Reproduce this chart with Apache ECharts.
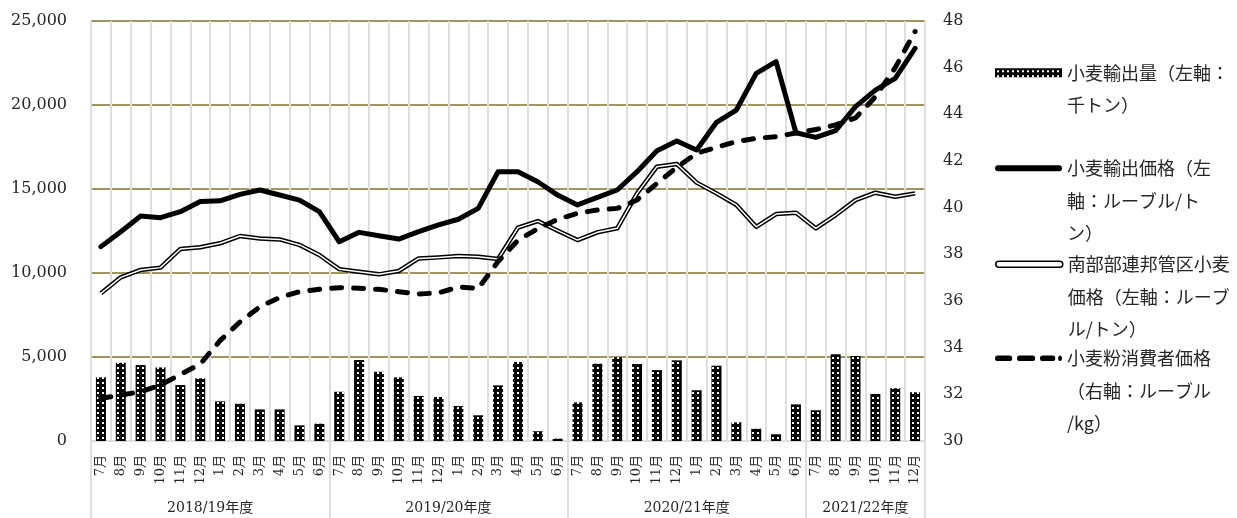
<!DOCTYPE html>
<html lang="ja">
<head>
<meta charset="utf-8">
<title>ロシア 小麦輸出量・価格の推移</title>
<script src="https://cdn.jsdelivr.net/npm/echarts@6/dist/echarts.min.js"></script>
<style>
  html, body { margin: 0; padding: 0; background: #fff; }
  #chart { width: 1237px; height: 518px; }
</style>
</head>
<body>
<div id="chart"></div>
<script>
// ---- data ----------------------------------------------------------------
const monthsOfSeason = ['7月', '8月', '9月', '10月', '11月', '12月', '1月', '2月', '3月', '4月', '5月', '6月'];
const months = [].concat(monthsOfSeason, monthsOfSeason, monthsOfSeason, monthsOfSeason.slice(0, 6));

const seasons = ['2018/19年度', '2019/20年度', '2020/21年度', '2021/22年度'];
const seasonStarts = [0, 12, 24, 36, 42];       // category index where each season begins / ends

// 小麦輸出量（千トン）
const exportVolume = [
  3790, 4660, 4520, 4380, 3330, 3730, 2360, 2220, 1880, 1880, 930, 1030,
  2930, 4820, 4120, 3790, 2680, 2620, 2080, 1530, 3310, 4700, 580, 140,
  2300, 4600, 4980, 4580, 4220, 4800, 3020, 4480, 1110, 730, 400, 2180,
  1830, 5160, 5060, 2800, 3140, 2900
];

// 小麦輸出価格（ルーブル/トン）
const exportPrice = [
  11570, 12460, 13390, 13290, 13650, 14250, 14300, 14680, 14940, 14640, 14340, 13650,
  11860, 12420, 12220, 12020, 12460, 12860, 13200, 13850, 16030, 16030, 15430, 14640,
  14050, 14500, 14940, 16030, 17280, 17860, 17320, 18970, 19700, 21880, 22580, 18350,
  18070, 18470, 19900, 20890, 21590, 23370
];

// 南部部連邦管区小麦価格（ルーブル/トン）
const southernPrice = [
  8790, 9740, 10180, 10320, 11430, 11530, 11770, 12200, 12060, 12000, 11670, 11070,
  10230, 10080, 9920, 10120, 10870, 10930, 11010, 10970, 10830, 12700, 13090, 12520,
  11960, 12420, 12660, 14740, 16330, 16490, 15380, 14740, 14050, 12750, 13510, 13590,
  12660, 13450, 14340, 14780, 14540, 14740
];

// 小麦粉消費者価格（ルーブル/kg）
const consumerPrice = [
  31.83, 31.97, 32.11, 32.40, 32.85, 33.30, 34.30, 35.10, 35.75, 36.15, 36.40, 36.50,
  36.57, 36.55, 36.50, 36.40, 36.30, 36.35, 36.60, 36.54, 37.69, 38.60, 39.10, 39.50,
  39.76, 39.90, 39.97, 40.33, 41.04, 41.73, 42.33, 42.59, 42.83, 42.97, 43.04, 43.20,
  43.35, 43.55, 43.85, 44.75, 46.00, 47.55
];

const leftTicks = { min: 0, max: 25000, interval: 5000 };
const rightTicks = { min: 30, max: 48, interval: 2 };

// ---- series names and wrapped legend text --------------------------------
const NAME_VOL = '小麦輸出量（左軸：千トン）';
const NAME_EXP = '小麦輸出価格（左軸：ルーブル/トン）';
const NAME_SOUTH = '南部部連邦管区小麦価格（左軸：ルーブル/トン）';
const NAME_CONS = '小麦粉消費者価格（右軸：ルーブル/kg）';

const legendLines = {};
legendLines[NAME_VOL] = ['小麦輸出量（左軸：', '千トン）'];
legendLines[NAME_EXP] = ['小麦輸出価格（左', '軸：ルーブル/ト', 'ン）'];
legendLines[NAME_SOUTH] = ['南部部連邦管区小麦', '価格（左軸：ルーブ', 'ル/トン）'];
legendLines[NAME_CONS] = ['小麦粉消費者価格', '（右軸：ルーブル', '/kg）'];

// ---- styling helpers -----------------------------------------------------
const SERIF = "'DejaVu Serif', 'Noto Sans CJK JP', serif";
const SANS = "'Noto Sans CJK JP', 'Noto Sans', sans-serif";
const OLIVE = '#a0945f';
const GRID_GREY = '#dedede';
const LEGEND_LINE_H = 32.5;

// black bar fill with a grid of small white dots
function dottedFill() {
  const c = document.createElement('canvas');
  c.width = 5; c.height = 5;
  const g = c.getContext('2d');
  g.fillStyle = '#000';
  g.fillRect(0, 0, 5, 5);
  g.fillStyle = '#fff';
  g.fillRect(2, 2, 2, 2);
  return c;
}
const barFill = { image: dottedFill(), repeat: 'repeat' };

// pill shaped path between x0 and x1, height h
function pill(x0, x1, h) {
  const r = h / 2;
  return 'M' + (x0 + r) + ',0 H' + (x1 - r) + ' A' + r + ',' + r + ' 0 0 1 ' + (x1 - r) + ',' + h +
         ' H' + (x0 + r) + ' A' + r + ',' + r + ' 0 0 1 ' + (x0 + r) + ',0 Z ';
}
const solidIcon = 'path://' + pill(0, 67, 6);
const dashedIcon = 'path://' + pill(0, 18, 6) + pill(23, 42, 6) + pill(47, 63, 6) + pill(66, 70, 6);

// one legend block; the icon sits beside the first text line
function legendBlock(name, iconCenterY, icon, iconH, itemStyle) {
  const lines = legendLines[name];
  const padded = new Array(lines.length - 1).fill('').concat(lines);
  const total = padded.length;
  return {
    show: true,
    left: 995,
    top: Math.round(iconCenterY - total * LEGEND_LINE_H / 2),
    padding: 0,
    itemWidth: 67,
    itemHeight: iconH,
    itemGap: 0,
    itemTextGap: 8,
    selectedMode: false,
    data: [Object.assign({ name: name, icon: icon }, itemStyle ? { itemStyle: itemStyle } : {})],
    formatter: () => padded.join('\n'),
    textStyle: { fontFamily: SANS, fontSize: 18, lineHeight: LEGEND_LINE_H, color: '#262626' }
  };
}

// ---- chart ---------------------------------------------------------------
const chart = echarts.init(document.getElementById('chart'), null, { renderer: 'canvas' });

const seasonCenters = seasons.map((_, i) => (seasonStarts[i] + seasonStarts[i + 1]) / 2);

chart.setOption({
  animation: false,
  backgroundColor: '#fff',
  grid: { left: 91, right: 312, top: 21, bottom: 77, containLabel: false },
  legend: [
    legendBlock(NAME_VOL, 73, 'rect', 9),
    legendBlock(NAME_EXP, 168, solidIcon, 6, { color: '#000', borderWidth: 0 }),
    legendBlock(NAME_SOUTH, 264, solidIcon, 6, { color: '#fff', borderColor: '#000', borderWidth: 1.5 }),
    legendBlock(NAME_CONS, 358, dashedIcon, 6, { color: '#000', borderWidth: 0 })
  ],
  xAxis: [
    {
      type: 'category',
      data: months,
      boundaryGap: true,
      axisLine: { show: true, lineStyle: { color: GRID_GREY, width: 2 } },
      axisTick: { show: false },
      axisLabel: {
        interval: 0, rotate: 90, margin: 14,
        fontFamily: SERIF, fontSize: 13, color: '#262626'
      },
      splitLine: { show: true, interval: 0, lineStyle: { color: GRID_GREY, width: 2 } }
    },
    {
      type: 'value',
      min: 0, max: months.length,
      position: 'bottom',
      offset: 77,
      axisLine: { show: false },
      splitLine: { show: false },
      axisTick: {
        show: true, inside: true, length: 77,
        customValues: seasonStarts,
        lineStyle: { color: GRID_GREY, width: 2 }
      },
      axisLabel: {
        show: true, inside: true, margin: 3,
        customValues: seasonCenters,
        formatter: (v) => seasons[seasonCenters.indexOf(v)] || '',
        fontFamily: SERIF, fontSize: 14, color: '#262626'
      }
    }
  ],
  yAxis: [
    {
      type: 'value',
      min: leftTicks.min, max: leftTicks.max, interval: leftTicks.interval,
      axisLine: { show: false },
      axisTick: { show: false },
      axisLabel: {
        margin: 24, fontFamily: SERIF, fontSize: 16, color: '#262626',
        formatter: (v) => v.toLocaleString('en-US')
      },
      splitLine: {
        show: true,
        lineStyle: { color: [GRID_GREY, OLIVE, OLIVE, OLIVE, OLIVE, OLIVE], width: 2 }
      }
    },
    {
      type: 'value',
      min: rightTicks.min, max: rightTicks.max, interval: rightTicks.interval,
      position: 'right',
      axisLine: { show: false },
      axisTick: { show: false },
      splitLine: { show: false },
      axisLabel: { margin: 18, fontFamily: SERIF, fontSize: 16, color: '#262626' }
    }
  ],
  series: [
    {
      name: NAME_VOL,
      type: 'bar',
      data: exportVolume,
      barWidth: 10,
      itemStyle: { color: barFill },
      z: 2
    },
    {
      name: NAME_EXP,
      type: 'line',
      data: exportPrice,
      symbol: 'none',
      lineStyle: { color: '#000', width: 5, join: 'round', cap: 'round' },
      itemStyle: { color: '#000' },
      z: 4
    },
    {
      // outer black stroke of the double line
      name: NAME_SOUTH,
      type: 'line',
      data: southernPrice,
      symbol: 'none',
      lineStyle: { color: '#000', width: 4.5, join: 'round' },
      itemStyle: { color: '#000' },
      z: 3
    },
    {
      // white core of the double line
      name: NAME_SOUTH,
      type: 'line',
      data: southernPrice,
      symbol: 'none',
      lineStyle: { color: '#fff', width: 1.5, join: 'round' },
      itemStyle: { color: '#fff' },
      z: 3
    },
    {
      name: NAME_CONS,
      type: 'line',
      yAxisIndex: 1,
      data: consumerPrice,
      symbol: 'none',
      lineStyle: { color: '#000', width: 5, type: [10, 12], cap: 'round', join: 'round' },
      itemStyle: { color: '#000' },
      z: 5
    }
  ]
});
</script>
</body>
</html>
